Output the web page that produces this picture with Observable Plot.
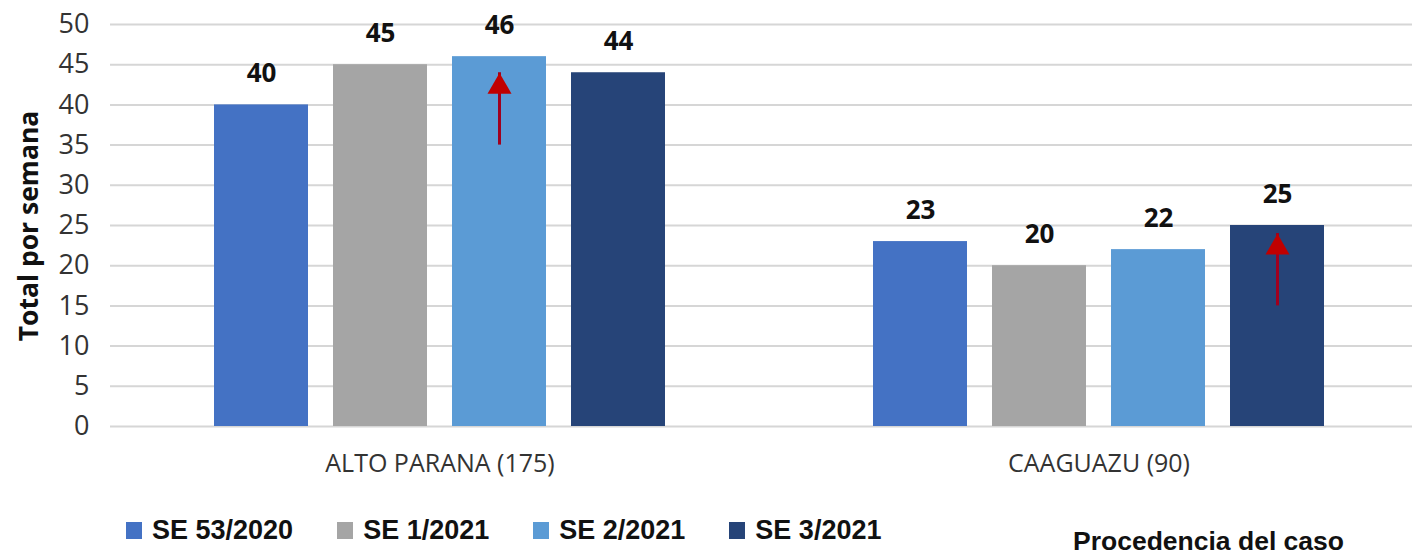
<!DOCTYPE html>
<html>
<head>
<meta charset="utf-8">
<script src="https://cdn.jsdelivr.net/npm/d3@7"></script>
<script src="https://cdn.jsdelivr.net/npm/@observablehq/plot@0.6"></script>
<style>
  html, body { margin: 0; padding: 0; background: #fff; }
  #wrap { width: 1412px; height: 555px; position: relative; overflow: hidden; font-family: "Open Sans", "Liberation Sans", sans-serif; }
  #legend { position: absolute; left: 126px; top: 515px; display: flex; align-items: center; gap: 44px; font-family: "Liberation Sans", Arial, sans-serif; font-weight: bold; font-size: 27px; color: #111; }
  .item { display: flex; align-items: center; gap: 10px; }
  .sw { width: 16px; height: 17px; display: inline-block; }
  #xtitle { position: absolute; left: 1073px; top: 526px; font-family: "Liberation Sans", Arial, sans-serif; font-weight: bold; font-size: 26.5px; color: #111; }
</style>
</head>
<body>
<div id="wrap">
  <div id="chart"></div>
  <div id="legend"></div>
  <div id="xtitle"></div>
</div>
<script>
const categories = ["ALTO PARANA (175)", "CAAGUAZU (90)"];
const series = ["SE 53/2020", "SE 1/2021", "SE 2/2021", "SE 3/2021"];
const altoParana = [40, 45, 46, 44];
const caaguazu = [23, 20, 22, 25];
const seriesColors = ["#4472C4", "#A5A5A5", "#5B9BD5", "#264478"];
const yTicks = [0, 5, 10, 15, 20, 25, 30, 35, 40, 45, 50];
const arrowGroups = ["ALTO PARANA (175)", "CAAGUAZU (90)"];
const arrowSeries = ["SE 2/2021", "SE 3/2021"];
const arrowFrom = [35, 15];
const arrowTo = [44, 24];
const yTitle = "Total por semana";
const xTitle = "Procedencia del caso";

const valuesByGroup = [altoParana, caaguazu];
const data = categories.flatMap((g, gi) => series.map((s, si) => ({group: g, serie: s, value: valuesByGroup[gi][si]})));
const arrows = arrowGroups.map((g, i) => ({group: g, serie: arrowSeries[i], from: arrowFrom[i], to: arrowTo[i]}));

const chart = Plot.plot({
  width: 1412,
  height: 495,
  marginLeft: 110,
  marginRight: -16,
  marginTop: 24,
  marginBottom: 69,
  style: {fontFamily: "'Open Sans', sans-serif", color: "#333", background: "white"},
  fx: {domain: categories, padding: 0, label: null},
  x: {domain: series, paddingInner: 0.21, paddingOuter: 0.87, axis: null},
  y: {domain: [0, 50], label: null},
  color: {domain: series, range: seriesColors},
  marks: [
    Plot.gridY(yTicks, {stroke: "#d6d6d6", strokeOpacity: 1, strokeWidth: 2}),
    Plot.axisY(yTicks, {tickSize: 0, tickPadding: 21, fontSize: 27, fill: "#333", label: null}),
    Plot.axisFx({anchor: "bottom", tickSize: 0, tickPadding: 28, fontSize: 25, fill: "#333", label: null}),
    Plot.barY(data, {fx: "group", x: "serie", y: "value", fill: "serie"}),
    Plot.text(data, {fx: "group", x: "serie", y: "value", text: d => String(d.value), dy: -31, lineAnchor: "middle", fontWeight: "bold", fontSize: 26, fill: "#111"}),
    Plot.ruleX(arrows, {fx: "group", x: "serie", y1: "from", y2: "to", stroke: "#A0001E", strokeWidth: 3}),
    Plot.dot(arrows, {fx: "group", x: "serie", y: "to", symbol: "triangle", r: 8.9, fill: "#C00000", stroke: "none", dy: 14})
  ]
});
document.getElementById("chart").appendChild(chart);

const svg = d3.select(chart.tagName.toLowerCase() === "svg" ? chart : chart.querySelector("svg"));
svg.append("text")
  .attr("transform", "translate(38,226) rotate(-90)")
  .attr("text-anchor", "middle")
  .attr("font-family", "'Open Sans', sans-serif")
  .attr("font-weight", "bold")
  .attr("font-size", 26.5)
  .attr("fill", "#111")
  .text(yTitle);

const legend = document.getElementById("legend");
series.forEach((s, i) => {
  const item = document.createElement("div");
  item.className = "item";
  const sw = document.createElement("span");
  sw.className = "sw";
  sw.style.background = seriesColors[i];
  const t = document.createElement("span");
  t.textContent = s;
  item.appendChild(sw);
  item.appendChild(t);
  legend.appendChild(item);
});
document.getElementById("xtitle").textContent = xTitle;
</script>
</body>
</html>
